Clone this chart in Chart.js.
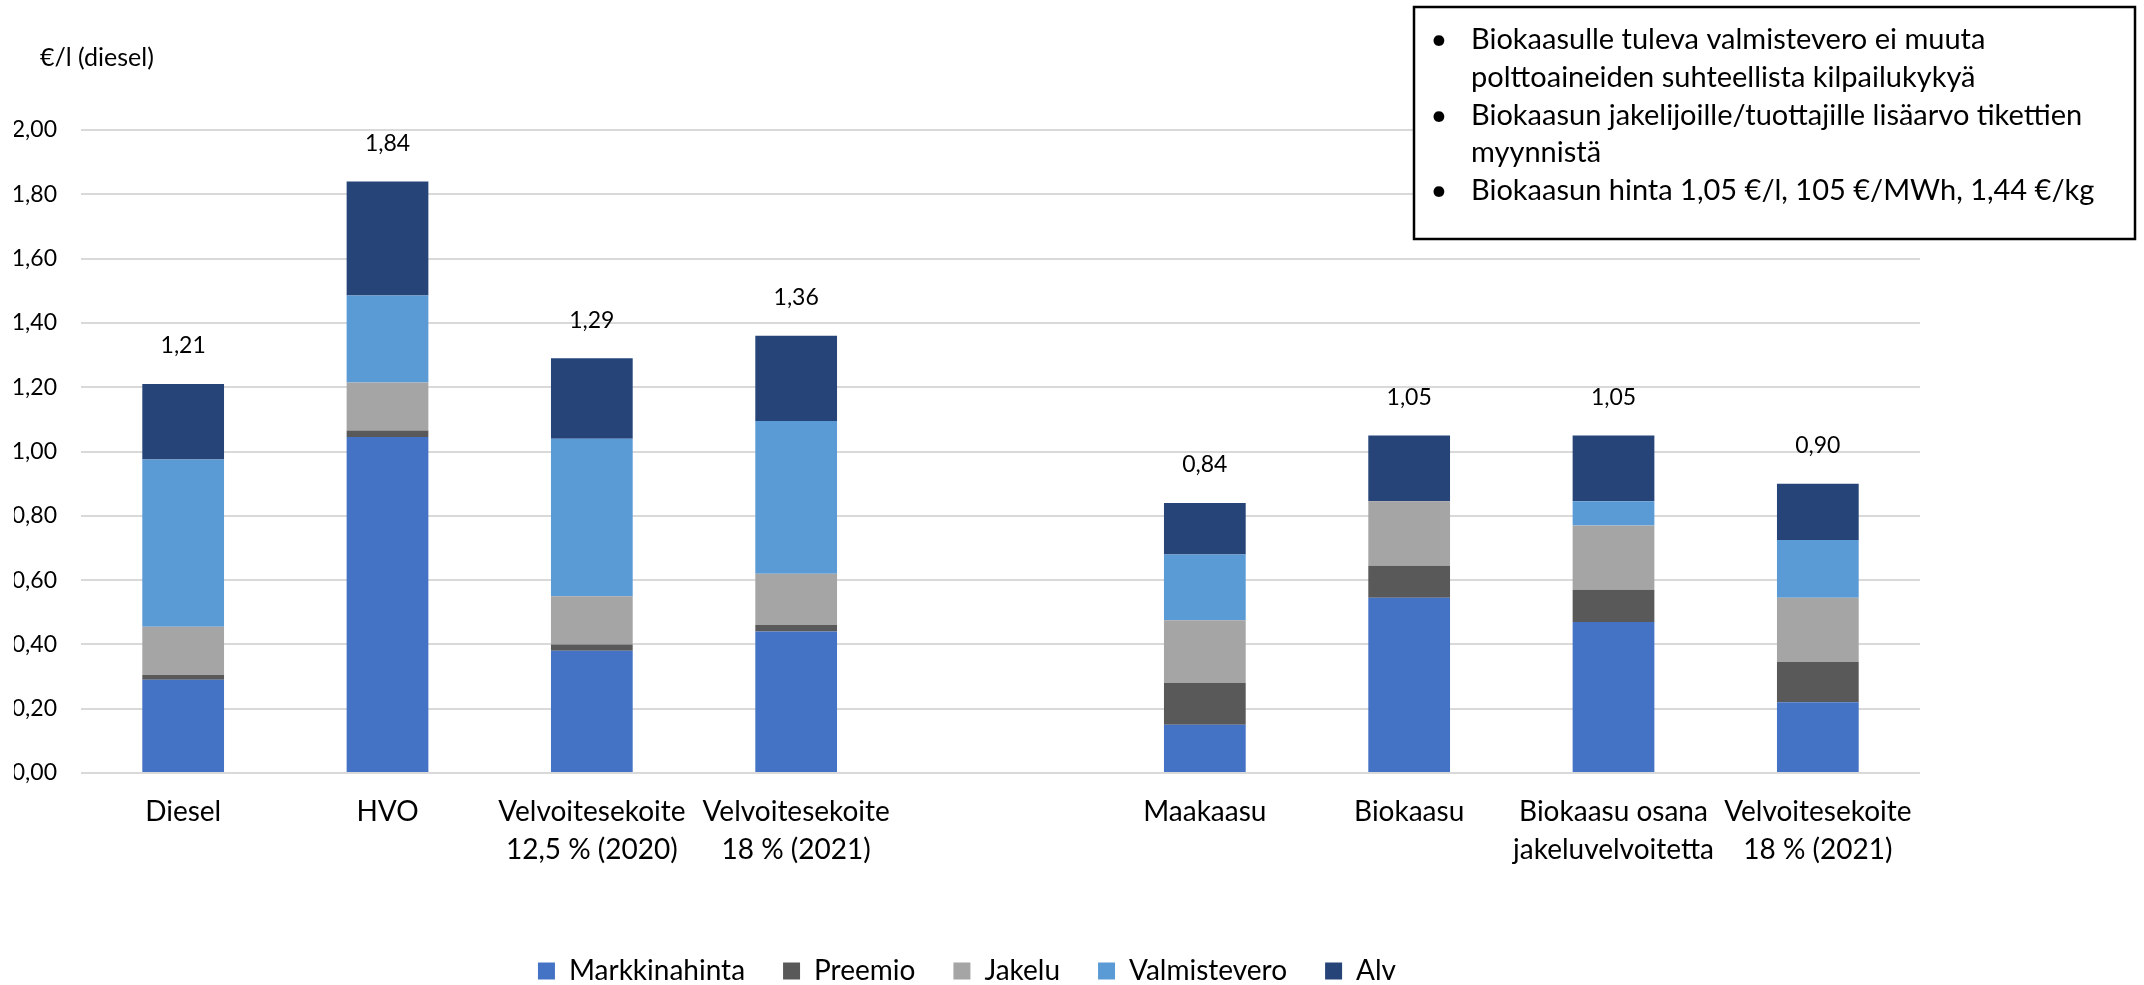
<!DOCTYPE html>
<html>
<head>
<meta charset="utf-8">
<script src="https://cdn.jsdelivr.net/npm/chart.js@4/dist/chart.umd.min.js"></script>
<style>
  html, body { margin: 0; padding: 0; background: #ffffff; }
  #wrap { width: 2144px; height: 985px; position: relative; }
</style>
</head>
<body>
<div id="wrap"><canvas id="chart" width="2144" height="985"></canvas></div>
<script>
// Fuel price breakdown, €/l diesel equivalent
const categories = [
  ['Diesel'],
  ['HVO'],
  ['Velvoitesekoite', '12,5 % (2020)'],
  ['Velvoitesekoite', '18 % (2021)'],
  [''],
  ['Maakaasu'],
  ['Biokaasu'],
  ['Biokaasu osana', 'jakeluvelvoitetta'],
  ['Velvoitesekoite', '18 % (2021)']
];
const seriesNames = ['Markkinahinta', 'Preemio', 'Jakelu', 'Valmistevero', 'Alv'];
const markkinahinta = [0.29, 1.045, 0.38, 0.44, null, 0.15, 0.545, 0.47, 0.22];
const preemio       = [0.015, 0.02, 0.02, 0.02, null, 0.13, 0.10, 0.10, 0.125];
const jakelu        = [0.15, 0.15, 0.15, 0.16, null, 0.195, 0.20, 0.20, 0.20];
const valmistevero  = [0.52, 0.27, 0.49, 0.475, null, 0.205, 0, 0.075, 0.18];
const alv           = [0.235, 0.355, 0.25, 0.265, null, 0.16, 0.205, 0.205, 0.175];
const yTicks = { min: 0, max: 2, step: 0.2 };
const axisTitle = '€/l (diesel)';
const notes = [
  ['Biokaasulle tuleva valmistevero ei muuta', 'polttoaineiden suhteellista kilpailukykyä'],
  ['Biokaasun jakelijoille/tuottajille lisäarvo tikettien', 'myynnistä'],
  ['Biokaasun hinta 1,05 €/l, 105 €/MWh, 1,44 €/kg']
];

const colors = ['#4472C4', '#595959', '#A5A5A5', '#5B9BD5', '#264478'];
const FONT = 'Lato, "Open Sans", sans-serif';
const fmt = v => v.toFixed(2).replace('.', ',');

const seriesData = [markkinahinta, preemio, jakelu, valmistevero, alv];
const totals = categories.map((_, i) => {
  if (markkinahinta[i] === null) return null;
  const s = seriesData.reduce((acc, arr) => acc + (arr[i] || 0), 0);
  return Math.round(s * 100) / 100;
});

// total above each stacked bar
const totalLabels = {
  id: 'totalLabels',
  afterDatasetsDraw(chart) {
    const { ctx, scales: { x, y } } = chart;
    ctx.save();
    ctx.font = '23px ' + FONT;
    ctx.fillStyle = '#000000';
    ctx.textAlign = 'center';
    ctx.textBaseline = 'middle';
    totals.forEach((t, i) => {
      if (t === null) return;
      ctx.fillText(fmt(t), x.getPixelForValue(i), y.getPixelForValue(t) - 38);
    });
    ctx.restore();
  }
};

// unit caption and the notes box
const annotations = {
  id: 'annotations',
  afterDraw(chart) {
    const { ctx } = chart;
    ctx.save();
    ctx.font = '25px ' + FONT;
    ctx.fillStyle = '#000000';
    ctx.textAlign = 'left';
    ctx.textBaseline = 'middle';
    ctx.fillText(axisTitle, 40, 58);

    ctx.fillStyle = '#ffffff';
    ctx.fillRect(1414, 7, 721, 232);
    ctx.strokeStyle = '#000000';
    ctx.lineWidth = 2.5;
    ctx.strokeRect(1414, 7, 721, 232);

    ctx.fillStyle = '#000000';
    ctx.font = '29px ' + FONT;
    ctx.textBaseline = 'alphabetic';
    let base = 49;
    notes.forEach(lines => {
      ctx.textAlign = 'center';
      ctx.fillText('•', 1439, base);
      ctx.textAlign = 'left';
      lines.forEach(line => {
        ctx.fillText(line, 1471, base);
        base += 37.8;
      });
    });
    ctx.restore();
  }
};

function draw() {
  new Chart(document.getElementById('chart'), {
    type: 'bar',
    data: {
      labels: categories,
      datasets: seriesData.map((d, k) => ({
        label: seriesNames[k],
        data: d,
        backgroundColor: colors[k],
        borderWidth: 0,
        categoryPercentage: 1,
        barPercentage: 0.4
      }))
    },
    options: {
      responsive: false,
      animation: false,
      devicePixelRatio: 1,
      layout: { padding: { left: 14, right: 224, top: 130, bottom: -10 } },
      plugins: {
        legend: {
          position: 'bottom',
          labels: {
            font: { family: FONT, size: 28, lineHeight: 1 },
            color: '#000000',
            boxWidth: 17,
            boxHeight: 17,
            padding: 38
          }
        },
        tooltip: { enabled: false },
        title: { display: false }
      },
      scales: {
        x: {
          stacked: true,
          grid: { display: false, drawTicks: false },
          border: { display: false },
          ticks: {
            color: '#000000',
            font: { family: FONT, size: 28, lineHeight: 1.36 },
            padding: 20,
            maxRotation: 0,
            autoSkip: false
          },
          afterFit(scale) { scale.height = 146; }
        },
        y: {
          stacked: true,
          min: yTicks.min,
          max: yTicks.max,
          grid: { color: '#D9D9D9', lineWidth: 2, drawTicks: false },
          border: { display: false },
          ticks: {
            stepSize: yTicks.step,
            color: '#000000',
            font: { family: FONT, size: 23 },
            padding: 24,
            callback: v => fmt(v)
          },
          afterFit(scale) { scale.width = 67; }
        }
      }
    },
    plugins: [totalLabels, annotations]
  });
}

if (document.fonts && document.fonts.load) {
  Promise.all([document.fonts.load('29px Lato'), document.fonts.load('23px Lato')]).then(draw, draw);
} else {
  draw();
}
</script>
</body>
</html>
